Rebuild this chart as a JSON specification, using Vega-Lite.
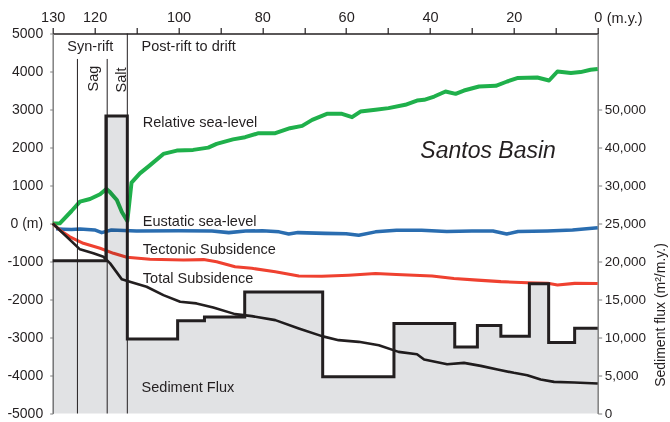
{
  "$schema": "https://vega.github.io/schema/vega-lite/v6.json",
  "width": 545,
  "height": 380,
  "autosize": "none",
  "padding": {"left": 52.7, "top": 33.5, "right": 72.3, "bottom": 8.5},
  "config": {
    "view": {"stroke": null},
    "font": "Liberation Sans",
    "axis": {"grid": false, "labelFont": "Liberation Sans", "titleFont": "Liberation Sans", "labelColor": "#231f20", "titleColor": "#231f20", "labelFlush": false, "labelOverlap": false}
  },
  "datasets": {
    "lines": [
      {"t": 130, "v": 0, "s": "Relative sea-level"},
      {"t": 128.3, "v": 5, "s": "Relative sea-level"},
      {"t": 125.5, "v": 329, "s": "Relative sea-level"},
      {"t": 123.5, "v": 574, "s": "Relative sea-level"},
      {"t": 121.1, "v": 646, "s": "Relative sea-level"},
      {"t": 118.7, "v": 769, "s": "Relative sea-level"},
      {"t": 117.2, "v": 910, "s": "Relative sea-level"},
      {"t": 116.3, "v": 820, "s": "Relative sea-level"},
      {"t": 114.7, "v": 619, "s": "Relative sea-level"},
      {"t": 113.5, "v": 303, "s": "Relative sea-level"},
      {"t": 112.2, "v": 66, "s": "Relative sea-level"},
      {"t": 111.2, "v": 1075, "s": "Relative sea-level"},
      {"t": 109.2, "v": 1318, "s": "Relative sea-level"},
      {"t": 107.2, "v": 1497, "s": "Relative sea-level"},
      {"t": 103.6, "v": 1831, "s": "Relative sea-level"},
      {"t": 100.4, "v": 1918, "s": "Relative sea-level"},
      {"t": 96.5, "v": 1937, "s": "Relative sea-level"},
      {"t": 92.9, "v": 1997, "s": "Relative sea-level"},
      {"t": 90.9, "v": 2095, "s": "Relative sea-level"},
      {"t": 87.0, "v": 2213, "s": "Relative sea-level"},
      {"t": 84.1, "v": 2271, "s": "Relative sea-level"},
      {"t": 80.9, "v": 2377, "s": "Relative sea-level"},
      {"t": 76.9, "v": 2377, "s": "Relative sea-level"},
      {"t": 73.4, "v": 2508, "s": "Relative sea-level"},
      {"t": 70.5, "v": 2569, "s": "Relative sea-level"},
      {"t": 68.1, "v": 2727, "s": "Relative sea-level"},
      {"t": 64.6, "v": 2885, "s": "Relative sea-level"},
      {"t": 61.0, "v": 2885, "s": "Relative sea-level"},
      {"t": 58.6, "v": 2798, "s": "Relative sea-level"},
      {"t": 56.6, "v": 2946, "s": "Relative sea-level"},
      {"t": 53.0, "v": 2991, "s": "Relative sea-level"},
      {"t": 49.9, "v": 3036, "s": "Relative sea-level"},
      {"t": 45.9, "v": 3123, "s": "Relative sea-level"},
      {"t": 43.1, "v": 3236, "s": "Relative sea-level"},
      {"t": 41.4, "v": 3254, "s": "Relative sea-level"},
      {"t": 39.0, "v": 3341, "s": "Relative sea-level"},
      {"t": 36.3, "v": 3473, "s": "Relative sea-level"},
      {"t": 33.9, "v": 3412, "s": "Relative sea-level"},
      {"t": 31.9, "v": 3499, "s": "Relative sea-level"},
      {"t": 28.3, "v": 3605, "s": "Relative sea-level"},
      {"t": 24.3, "v": 3623, "s": "Relative sea-level"},
      {"t": 21.6, "v": 3737, "s": "Relative sea-level"},
      {"t": 19.2, "v": 3826, "s": "Relative sea-level"},
      {"t": 14.4, "v": 3842, "s": "Relative sea-level"},
      {"t": 11.6, "v": 3763, "s": "Relative sea-level"},
      {"t": 9.6, "v": 4000, "s": "Relative sea-level"},
      {"t": 6.4, "v": 3958, "s": "Relative sea-level"},
      {"t": 4.1, "v": 3984, "s": "Relative sea-level"},
      {"t": 1.7, "v": 4045, "s": "Relative sea-level"},
      {"t": 0, "v": 4063, "s": "Relative sea-level"},

      {"t": 129.2, "v": -140, "s": "Eustatic sea-level"},
      {"t": 127.5, "v": -150, "s": "Eustatic sea-level"},
      {"t": 125.5, "v": -160, "s": "Eustatic sea-level"},
      {"t": 123.5, "v": -145, "s": "Eustatic sea-level"},
      {"t": 120, "v": -170, "s": "Eustatic sea-level"},
      {"t": 118.3, "v": -240, "s": "Eustatic sea-level"},
      {"t": 116, "v": -170, "s": "Eustatic sea-level"},
      {"t": 110, "v": -200, "s": "Eustatic sea-level"},
      {"t": 100, "v": -190, "s": "Eustatic sea-level"},
      {"t": 92, "v": -200, "s": "Eustatic sea-level"},
      {"t": 88, "v": -240, "s": "Eustatic sea-level"},
      {"t": 84, "v": -200, "s": "Eustatic sea-level"},
      {"t": 80, "v": -190, "s": "Eustatic sea-level"},
      {"t": 76, "v": -220, "s": "Eustatic sea-level"},
      {"t": 73.7, "v": -277, "s": "Eustatic sea-level"},
      {"t": 71.5, "v": -240, "s": "Eustatic sea-level"},
      {"t": 65, "v": -260, "s": "Eustatic sea-level"},
      {"t": 60, "v": -270, "s": "Eustatic sea-level"},
      {"t": 57, "v": -310, "s": "Eustatic sea-level"},
      {"t": 53, "v": -220, "s": "Eustatic sea-level"},
      {"t": 48, "v": -180, "s": "Eustatic sea-level"},
      {"t": 42, "v": -175, "s": "Eustatic sea-level"},
      {"t": 36, "v": -210, "s": "Eustatic sea-level"},
      {"t": 30, "v": -200, "s": "Eustatic sea-level"},
      {"t": 25, "v": -200, "s": "Eustatic sea-level"},
      {"t": 21.7, "v": -277, "s": "Eustatic sea-level"},
      {"t": 19, "v": -210, "s": "Eustatic sea-level"},
      {"t": 12, "v": -195, "s": "Eustatic sea-level"},
      {"t": 6, "v": -170, "s": "Eustatic sea-level"},
      {"t": 0, "v": -110, "s": "Eustatic sea-level"},

      {"t": 130, "v": 0, "s": "Tectonic Subsidence"},
      {"t": 128, "v": -200, "s": "Tectonic Subsidence"},
      {"t": 125.9, "v": -350, "s": "Tectonic Subsidence"},
      {"t": 122.7, "v": -520, "s": "Tectonic Subsidence"},
      {"t": 118.7, "v": -650, "s": "Tectonic Subsidence"},
      {"t": 115.5, "v": -785, "s": "Tectonic Subsidence"},
      {"t": 112.3, "v": -890, "s": "Tectonic Subsidence"},
      {"t": 106.8, "v": -940, "s": "Tectonic Subsidence"},
      {"t": 98.8, "v": -960, "s": "Tectonic Subsidence"},
      {"t": 94, "v": -950, "s": "Tectonic Subsidence"},
      {"t": 90.9, "v": -1005, "s": "Tectonic Subsidence"},
      {"t": 86.5, "v": -1140, "s": "Tectonic Subsidence"},
      {"t": 82.5, "v": -1180, "s": "Tectonic Subsidence"},
      {"t": 76.9, "v": -1270, "s": "Tectonic Subsidence"},
      {"t": 71.3, "v": -1380, "s": "Tectonic Subsidence"},
      {"t": 65.8, "v": -1390, "s": "Tectonic Subsidence"},
      {"t": 59.4, "v": -1360, "s": "Tectonic Subsidence"},
      {"t": 53, "v": -1315, "s": "Tectonic Subsidence"},
      {"t": 48, "v": -1340, "s": "Tectonic Subsidence"},
      {"t": 43.8, "v": -1360, "s": "Tectonic Subsidence"},
      {"t": 39.5, "v": -1380, "s": "Tectonic Subsidence"},
      {"t": 34.3, "v": -1445, "s": "Tectonic Subsidence"},
      {"t": 28.7, "v": -1490, "s": "Tectonic Subsidence"},
      {"t": 23.1, "v": -1530, "s": "Tectonic Subsidence"},
      {"t": 16.7, "v": -1560, "s": "Tectonic Subsidence"},
      {"t": 11.9, "v": -1575, "s": "Tectonic Subsidence"},
      {"t": 9.6, "v": -1620, "s": "Tectonic Subsidence"},
      {"t": 5.5, "v": -1575, "s": "Tectonic Subsidence"},
      {"t": 0, "v": -1580, "s": "Tectonic Subsidence"},

      {"t": 130, "v": 0, "s": "Total Subsidence"},
      {"t": 127.1, "v": -303, "s": "Total Subsidence"},
      {"t": 123.5, "v": -680, "s": "Total Subsidence"},
      {"t": 120.3, "v": -785, "s": "Total Subsidence"},
      {"t": 117.9, "v": -875, "s": "Total Subsidence"},
      {"t": 116.3, "v": -1049, "s": "Total Subsidence"},
      {"t": 113.5, "v": -1470, "s": "Total Subsidence"},
      {"t": 111.6, "v": -1534, "s": "Total Subsidence"},
      {"t": 107.6, "v": -1665, "s": "Total Subsidence"},
      {"t": 103.6, "v": -1884, "s": "Total Subsidence"},
      {"t": 99.6, "v": -2060, "s": "Total Subsidence"},
      {"t": 95.7, "v": -2103, "s": "Total Subsidence"},
      {"t": 91.7, "v": -2208, "s": "Total Subsidence"},
      {"t": 86.5, "v": -2385, "s": "Total Subsidence"},
      {"t": 82.5, "v": -2437, "s": "Total Subsidence"},
      {"t": 76.9, "v": -2543, "s": "Total Subsidence"},
      {"t": 71.3, "v": -2762, "s": "Total Subsidence"},
      {"t": 65.8, "v": -2964, "s": "Total Subsidence"},
      {"t": 61.8, "v": -3070, "s": "Total Subsidence"},
      {"t": 57, "v": -3114, "s": "Total Subsidence"},
      {"t": 52.2, "v": -3202, "s": "Total Subsidence"},
      {"t": 47.5, "v": -3378, "s": "Total Subsidence"},
      {"t": 43.1, "v": -3439, "s": "Total Subsidence"},
      {"t": 41.4, "v": -3580, "s": "Total Subsidence"},
      {"t": 35.9, "v": -3702, "s": "Total Subsidence"},
      {"t": 31.9, "v": -3668, "s": "Total Subsidence"},
      {"t": 27.9, "v": -3747, "s": "Total Subsidence"},
      {"t": 23.9, "v": -3842, "s": "Total Subsidence"},
      {"t": 20, "v": -3930, "s": "Total Subsidence"},
      {"t": 16.8, "v": -3991, "s": "Total Subsidence"},
      {"t": 13.6, "v": -4104, "s": "Total Subsidence"},
      {"t": 10.4, "v": -4168, "s": "Total Subsidence"},
      {"t": 5.6, "v": -4184, "s": "Total Subsidence"},
      {"t": 0, "v": -4211, "s": "Total Subsidence"}
    ],
    "flux": [
      {"t": 0, "flux": 11230},
      {"t": 5.5, "flux": 9330},
      {"t": 11.7, "flux": 17060},
      {"t": 16.3, "flux": 10170},
      {"t": 23.1, "flux": 11570},
      {"t": 28.7, "flux": 8760},
      {"t": 34.1, "flux": 11830},
      {"t": 48.6, "flux": 4850},
      {"t": 65.6, "flux": 16000},
      {"t": 84.2, "flux": 12700},
      {"t": 93.8, "flux": 12200},
      {"t": 100.2, "flux": 9800},
      {"t": 112.2, "flux": 48300},
      {"t": 117.3, "flux": 20100},
      {"t": 130, "flux": 20100}
    ],
    "rules": [
      {"t": 124.1, "top": 4330, "bottom": -5000},
      {"t": 117.0, "top": 4330, "bottom": -5000},
      {"t": 112.2, "top": 5000, "bottom": -5000}
    ],
    "labels": [
      {"t": 126.5, "v": 4532, "text": "Syn-rift"},
      {"t": 108.8, "v": 4532, "text": "Post-rift to drift"},
      {"t": 108.5, "v": 2535, "text": "Relative sea-level"},
      {"t": 108.5, "v": -60, "text": "Eustatic sea-level"},
      {"t": 108.5, "v": -804, "text": "Tectonic Subsidence"},
      {"t": 108.5, "v": -1555, "text": "Total Subsidence"},
      {"t": 108.8, "v": -4427, "text": "Sediment Flux"},
      {"t": -2.15, "v": 5285, "text": "(m.y.)"}
    ],
    "vlabels": [
      {"t": 119.1, "v": 3473, "text": "Sag"},
      {"t": 112.5, "v": 3447, "text": "Salt"}
    ],
    "basin": [
      {"t": 42.3, "v": 1734, "text": "Santos Basin"}
    ]
  },
  "encoding": {
    "x": {
      "field": "t",
      "type": "quantitative",
      "scale": {"domain": [130, 0], "nice": false, "zero": false},
      "axis": {
        "orient": "top",
        "title": null,
        "values": [130, 120, 110, 100, 90, 80, 70, 60, 50, 40, 30, 20, 10, 0],
        "labelExpr": "(datum.value == 130 || datum.value % 20 == 0) ? '' + datum.value : ''",
        "labelFontSize": 14.5,
        "labelPadding": 3,
        "tickSize": 6,
        "tickColor": "#231f20",
        "tickWidth": 1.2,
        "domainColor": "#231f20",
        "domainWidth": 1.4
      }
    }
  },
  "layer": [
    {
      "data": {"name": "lines"},
      "mark": {"type": "line", "strokeJoin": "round"},
      "encoding": {
        "y": {
          "field": "v",
          "type": "quantitative",
          "scale": {"domain": [-5000, 5000], "nice": false, "zero": false},
          "axis": {
            "orient": "left",
            "title": null,
            "values": [-5000, -4000, -3000, -2000, -1000, 0, 1000, 2000, 3000, 4000, 5000],
            "labelExpr": "datum.value == 0 ? '0 (m)' : '' + datum.value",
            "labelFontSize": 14,
            "labelPadding": 7,
            "tickSize": 3,
            "tickColor": "#808080",
            "domainColor": "#808080",
            "domainWidth": 1.5
          }
        },
        "color": {
          "field": "s",
          "type": "nominal",
          "legend": null,
          "scale": {
            "domain": ["Relative sea-level", "Eustatic sea-level", "Tectonic Subsidence", "Total Subsidence"],
            "range": ["#1fb04b", "#2a6db0", "#ef4130", "#231f20"]
          }
        },
        "strokeWidth": {
          "field": "s",
          "type": "nominal",
          "legend": null,
          "scale": {
            "domain": ["Relative sea-level", "Eustatic sea-level", "Tectonic Subsidence", "Total Subsidence"],
            "range": [4, 2.6, 4, 3]
          }
        }
      }
    },
    {
      "data": {"name": "flux"},
      "layer": [
        {
          "mark": {"type": "area", "interpolate": "step-before", "color": "#e1e2e4", "blend": "multiply"},
          "encoding": {
            "y": {
              "field": "flux",
              "type": "quantitative",
              "scale": {"domain": [0, 30000, 70000], "range": [380, 152, 0], "nice": false, "zero": false},
              "axis": {
                "orient": "right",
                "title": "Sediment flux (m²/m.y.)",
                "values": [0, 5000, 10000, 15000, 20000, 25000, 30000, 40000, 50000],
                "labelExpr": "format(datum.value, ',')",
                "labelFontSize": 13.5,
                "labelPadding": 2.5,
                "tickSize": 4,
                "tickColor": "#808080",
                "domainColor": "#808080",
                "domainWidth": 1.5,
                "titleFontSize": 14,
                "titleFontWeight": "normal",
                "titleAngle": 270,
                "titleX": 63,
                "titleY": 281,
                "titleAlign": "center",
                "titleBaseline": "middle"
              }
            }
          }
        },
        {
          "mark": {"type": "line", "interpolate": "step-before", "color": "#231f20", "strokeWidth": 3},
          "encoding": {"y": {"field": "flux", "type": "quantitative"}}
        }
      ]
    },
    {
      "layer": [
        {
          "data": {"name": "rules"},
          "mark": {"type": "rule", "color": "#231f20", "strokeWidth": 1},
          "encoding": {
            "y": {"field": "top", "type": "quantitative", "scale": {"domain": [-5000, 5000], "nice": false, "zero": false}, "axis": null},
            "y2": {"field": "bottom"}
          }
        },
        {
          "data": {"name": "labels"},
          "mark": {"type": "text", "align": "left", "baseline": "alphabetic", "fontSize": 14.5, "color": "#231f20", "font": "Liberation Sans"},
          "encoding": {
            "y": {"field": "v", "type": "quantitative", "scale": {"domain": [-5000, 5000], "nice": false, "zero": false}, "axis": null},
            "text": {"field": "text"}
          }
        },
        {
          "data": {"name": "vlabels"},
          "mark": {"type": "text", "align": "left", "baseline": "alphabetic", "angle": 270, "fontSize": 14.5, "color": "#231f20", "font": "Liberation Sans"},
          "encoding": {
            "y": {"field": "v", "type": "quantitative", "scale": {"domain": [-5000, 5000], "nice": false, "zero": false}, "axis": null},
            "text": {"field": "text"}
          }
        },
        {
          "data": {"name": "basin"},
          "mark": {"type": "text", "align": "left", "baseline": "alphabetic", "fontSize": 23, "fontStyle": "italic", "color": "#231f20", "font": "Liberation Sans"},
          "encoding": {
            "y": {"field": "v", "type": "quantitative", "scale": {"domain": [-5000, 5000], "nice": false, "zero": false}, "axis": null},
            "text": {"field": "text"}
          }
        }
      ]
    }
  ],
  "resolve": {"scale": {"y": "independent"}}
}
